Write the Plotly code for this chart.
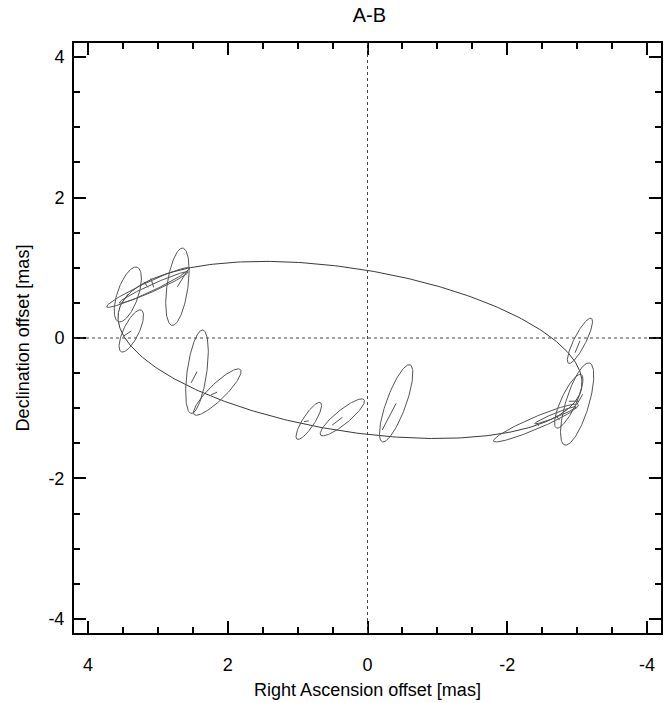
import numpy as np
import plotly.graph_objects as go

# ---- measured relative positions (mas) and error ellipses ----
obs_ra = [3.43, 3.14, 3.06, 2.72, 3.38, 2.44, 2.15, 0.84, 0.36, -0.41, -3.04, -3.00, -2.88, -2.41, -2.69]
obs_dec = [0.62, 0.72, 0.72, 0.73, 0.10, -0.48, -0.77, -1.18, -1.13, -0.93, -0.04, -0.94, -0.90, -1.21, -1.10]
err_major = [0.41, 0.655, 0.54, 0.556, 0.33, 0.60, 0.46, 0.31, 0.40, 0.583, 0.36, 0.61, 0.42, 0.66, 0.32]
err_minor = [0.15, 0.07, 0.05, 0.15, 0.11, 0.14, 0.115, 0.085, 0.10, 0.14, 0.085, 0.165, 0.11, 0.085, 0.03]
err_pa = [-19, -65, -66, -8, -26, -8, -46, -33, -51, -20, -27, -17, -25, -67, -68]

# ---- predicted (orbit) positions for each epoch ----
pred_ra = [3.50, 3.20, 3.10, 2.57, 3.50, 2.525, 2.24, 0.91, 0.505, -0.21, -2.97, -3.08, -3.02, -2.45, -2.75]
pred_dec = [0.52, 0.80, 0.85, 0.97, 0.02, -0.64, -0.81, -1.19, -1.24, -1.31, -0.21, -0.80, -0.90, -1.25, -1.17]

# ---- apparent orbit (projected ellipse) ----
orbit_center_ra = 0.25
orbit_center_dec = -0.17
orbit_semi_major = 3.357
orbit_semi_minor = 1.158
orbit_angle_deg = 9.1

tick_vals = [4, 2, 0, -2, -4]
tick_text = ["4", "2", "0", "-2", "-4"]

FONT = "Liberation Sans, Arial, Helvetica, sans-serif"

fig = go.Figure()

# orbit curve
t = np.linspace(0, 2 * np.pi, 400)
phi = np.radians(orbit_angle_deg)
ox = orbit_center_ra + orbit_semi_major * np.cos(t) * np.cos(phi) - orbit_semi_minor * np.sin(t) * np.sin(phi)
oy = orbit_center_dec + orbit_semi_major * np.cos(t) * np.sin(phi) + orbit_semi_minor * np.sin(t) * np.cos(phi)
fig.add_trace(go.Scatter(x=ox, y=oy, mode="lines", line=dict(color="#3a3a3a", width=1),
                         hoverinfo="skip", showlegend=False))

# error ellipses
ex, ey = [], []
te = np.linspace(0, 2 * np.pi, 120)
for ra, de, a, b, pa in zip(obs_ra, obs_dec, err_major, err_minor, err_pa):
    p = np.radians(pa)
    dx = a * np.cos(te) * np.sin(p) + b * np.sin(te) * np.cos(p)
    dy = a * np.cos(te) * np.cos(p) - b * np.sin(te) * np.sin(p)
    ex += list(ra + dx) + [None]
    ey += list(de + dy) + [None]
fig.add_trace(go.Scatter(x=ex, y=ey, mode="lines", line=dict(color="#555555", width=1),
                         hoverinfo="skip", showlegend=False))

# residual lines (observed -> predicted)
rx, ry = [], []
for ra, de, pr, pd in zip(obs_ra, obs_dec, pred_ra, pred_dec):
    rx += [ra, pr, None]
    ry += [de, pd, None]
fig.add_trace(go.Scatter(x=rx, y=ry, mode="lines", line=dict(color="#555555", width=1),
                         hoverinfo="skip", showlegend=False))

# dotted zero lines
fig.add_shape(type="line", xref="x", yref="y", x0=0, x1=0, y0=-4.2, y1=4.2,
              line=dict(color="#444444", width=1, dash="dot"))
fig.add_shape(type="line", xref="x", yref="y", x0=4.2, x1=-4.2, y0=0, y1=0,
              line=dict(color="#444444", width=1, dash="dot"))

axis_common = dict(
    tickvals=tick_vals, ticktext=tick_text,
    ticks="inside", ticklen=12, tickwidth=1.5, tickcolor="black",
    showline=True, linewidth=2, linecolor="black", mirror="ticks",
    showgrid=False, zeroline=False,
    minor=dict(tick0=0, dtick=0.5, ticks="inside", ticklen=6, tickwidth=1.5, tickcolor="black"),
    tickfont=dict(family=FONT, size=18, color="black"),
)

fig.update_layout(
    width=666, height=703,
    margin=dict(l=74, r=3, t=43, b=70),
    paper_bgcolor="white", plot_bgcolor="white",
    title=dict(text="A-B", x=0.5545, xanchor="center", y=0.978, yanchor="middle",
               font=dict(family=FONT, size=20, color="black")),
    xaxis=dict(range=[4.2, -4.2], **axis_common, ticklabelstandoff=14,
               title=dict(text="Right Ascension offset [mas]", standoff=10,
                          font=dict(family=FONT, size=18, color="black"))),
    yaxis=dict(range=[-4.2, 4.2], **axis_common, ticklabelstandoff=4,
               title=dict(text="Declination offset [mas]", standoff=14,
                          font=dict(family=FONT, size=18, color="black"))),
)

fig.write_html("out.html",
               config={"displayModeBar": False},
               post_script="document.body.style.margin='0';document.body.style.overflow='hidden';")
